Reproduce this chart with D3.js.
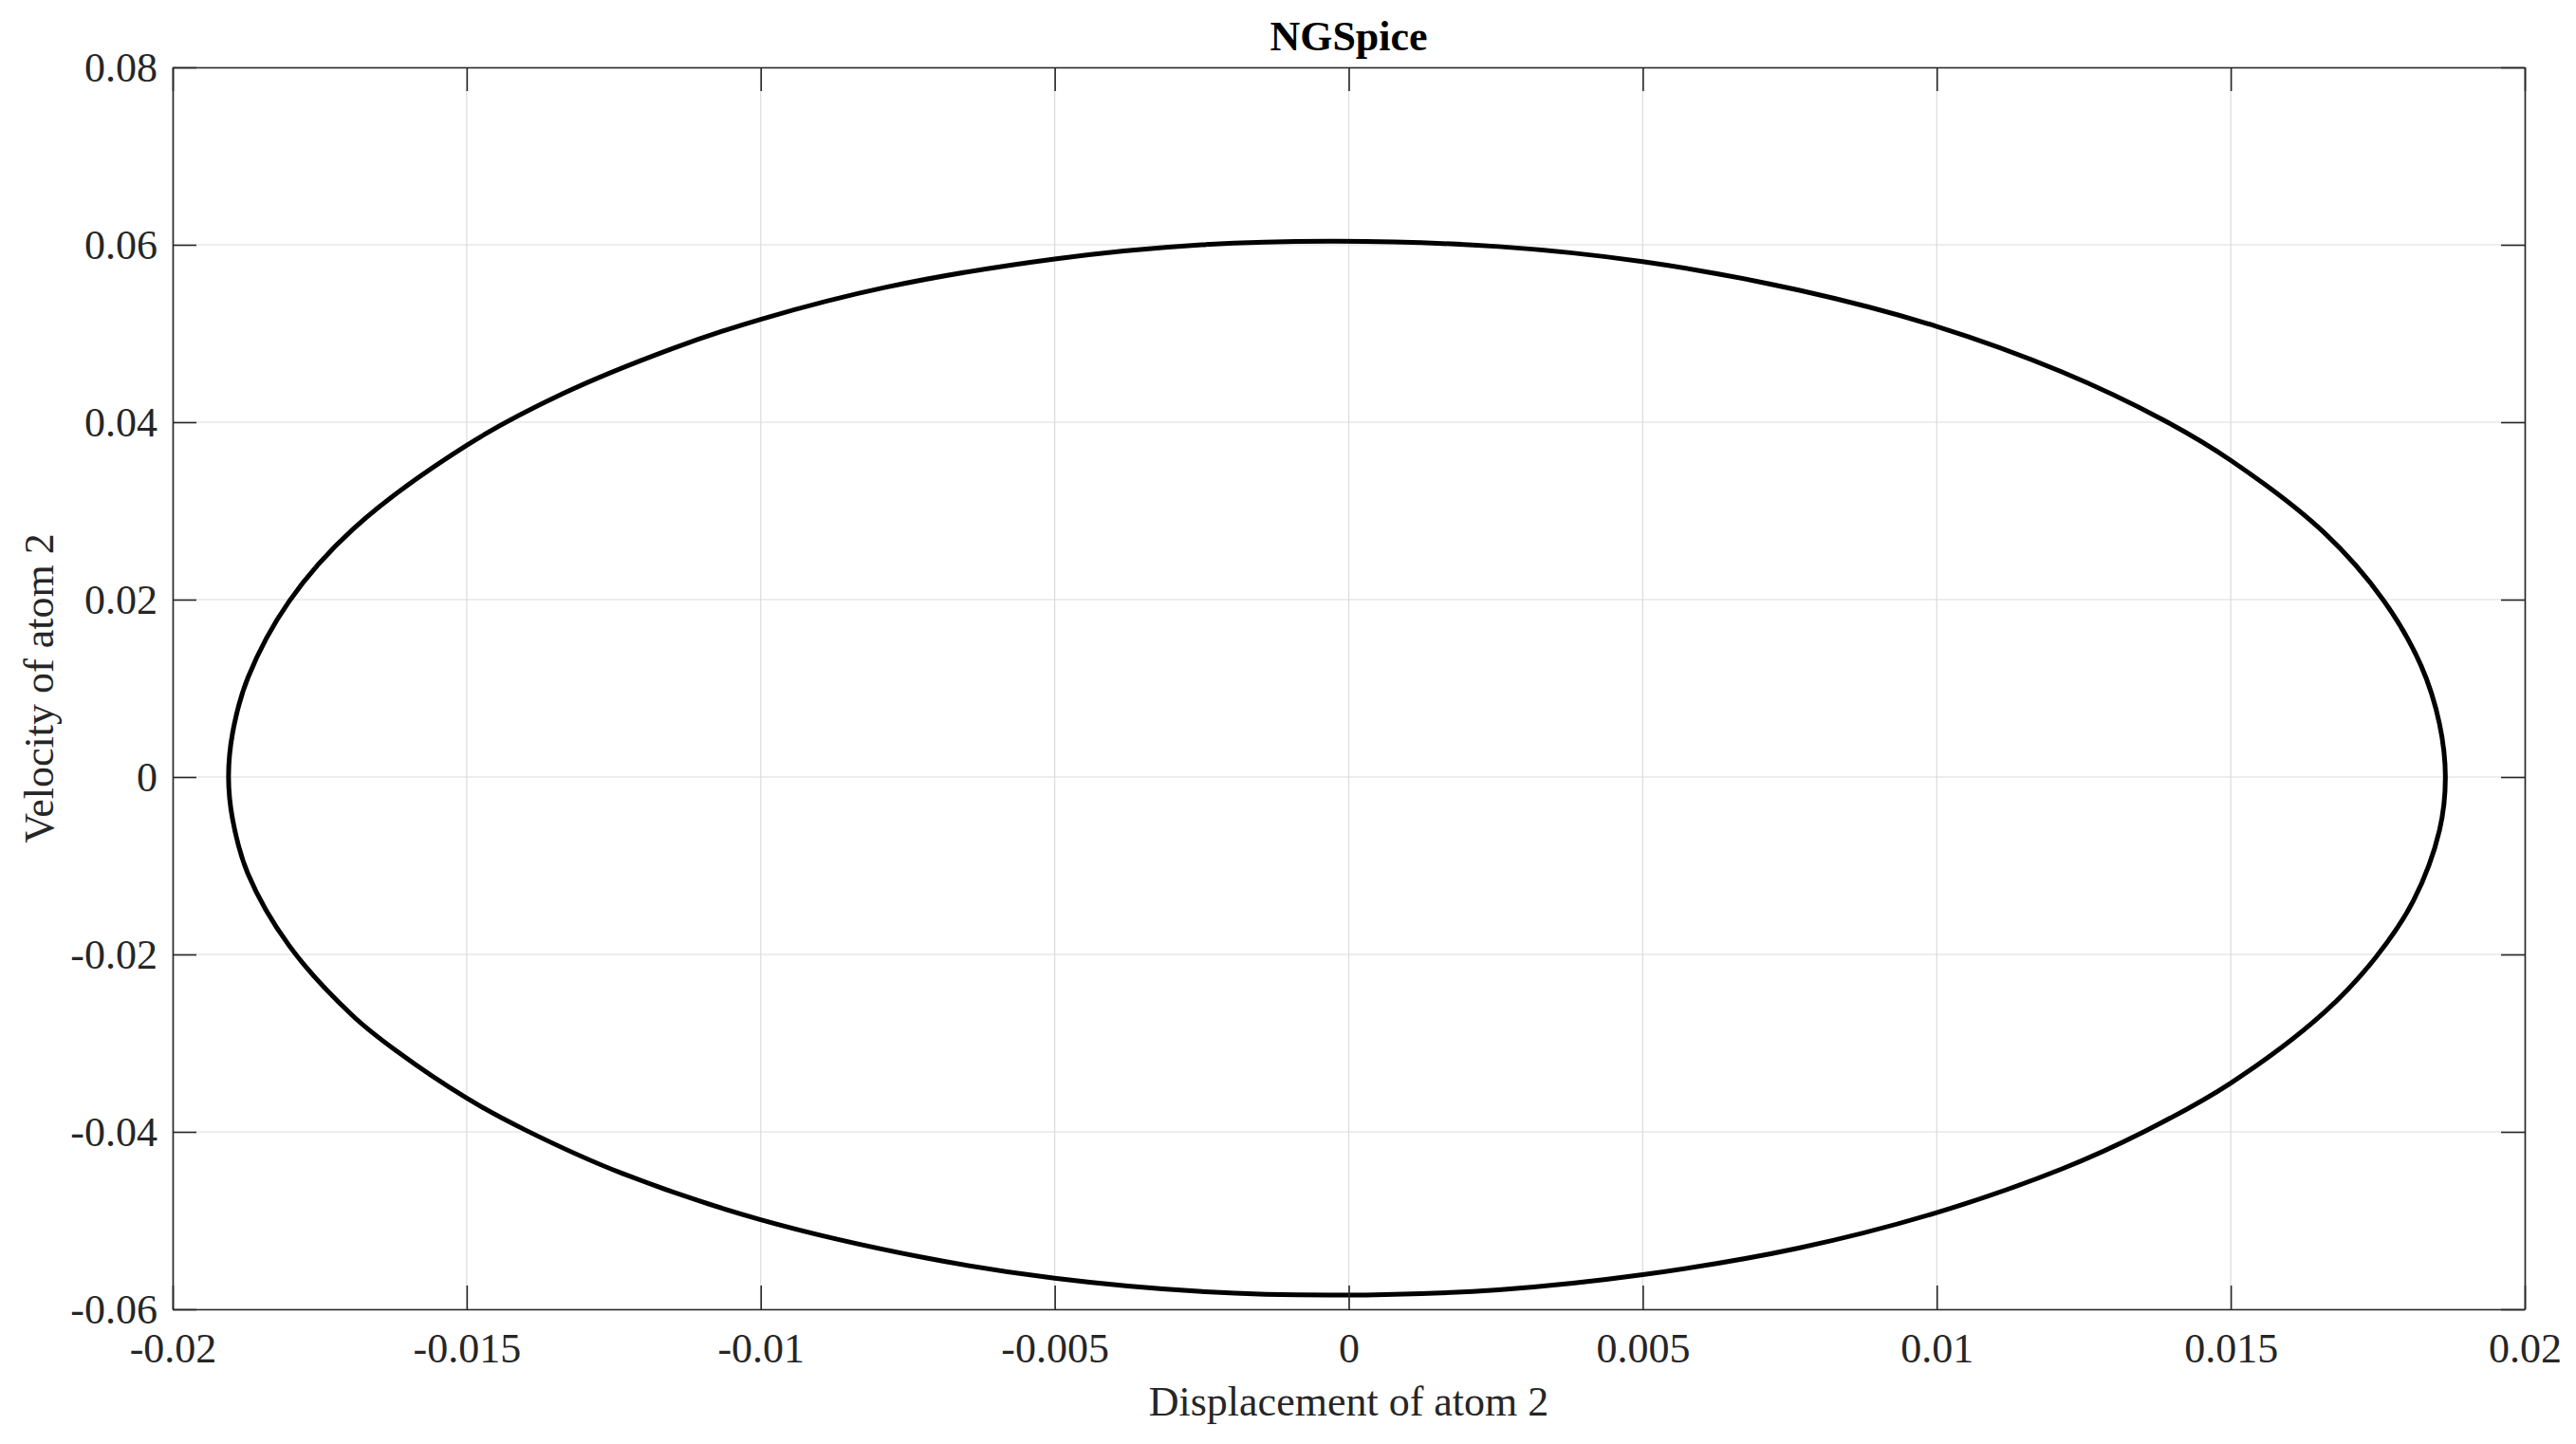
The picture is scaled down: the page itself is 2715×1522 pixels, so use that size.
<!DOCTYPE html>
<html>
<head>
<meta charset="utf-8">
<script src="https://cdn.jsdelivr.net/npm/d3@7"></script>
<style>
    body { margin: 0; background: #fff; }
    .chart__container { width: 2715px; height: 1522px; }
</style>
</head>
<body>
<div class="chart__container"></div>
<script>
// phase portrait, going round the loop once
const displacement = [
    -0.01905, -0.01898, -0.01872, -0.01802, -0.01694, -0.01500, -0.01337, -0.01150,
    -0.01000, -0.00788, -0.00500, -0.00250, -0.00020, 0.00255, 0.00500, 0.00765,
    0.01000, 0.01212, 0.01384, 0.01500, 0.01658, 0.01760, 0.01824, 0.01855,
    0.01865, 0.01855, 0.01811, 0.01747, 0.01658, 0.01500, 0.01352, 0.01212,
    0.01000, 0.00765, 0.00500, 0.00255, -0.00020, -0.00250, -0.00500, -0.00720,
    -0.01000, -0.01235, -0.01400, -0.01500, -0.01617, -0.01694, -0.01802, -0.01872,
    -0.01898
];
const velocity = [
    0.0000, 0.0050, 0.0112, 0.0198, 0.0279, 0.0374, 0.0432, 0.0483,
    0.0516, 0.0552, 0.0584, 0.0600, 0.0604, 0.0598, 0.0581, 0.0549,
    0.0508, 0.0457, 0.0403, 0.0357, 0.0276, 0.0199, 0.0125, 0.0060,
    0.0000, -0.0060, -0.0139, -0.0203, -0.0266, -0.0345, -0.0400, -0.0442,
    -0.0491, -0.0531, -0.0561, -0.0578, -0.0584, -0.0580, -0.0565, -0.0542,
    -0.0499, -0.0447, -0.0398, -0.0362, -0.0310, -0.0269, -0.0190, -0.0109,
    -0.0048
];

const xTicks = [-0.02, -0.015, -0.01, -0.005, 0, 0.005, 0.01, 0.015, 0.02];
const yTicks = [-0.06, -0.04, -0.02, 0, 0.02, 0.04, 0.06, 0.08];

const chartTitle = 'NGSpice';
const xLabel = 'Displacement of atom 2';
const yLabel = 'Velocity of atom 2';

function drawChart() {
    const width = 2715,
        height = 1522,
        margin = {top: 71, right: 54, bottom: 142, left: 182};
    const innerW = width - margin.left - margin.right,
        innerH = height - margin.top - margin.bottom;
    const tickLen = 25;
    const axisColor = '#262626';
    const font = '"Liberation Serif", "Times New Roman", serif';

    const x = d3.scaleLinear().domain([-0.02, 0.02]).range([0, innerW]);
    const y = d3.scaleLinear().domain([-0.06, 0.08]).range([innerH, 0]);

    const svg = d3.select('.chart__container')
        .append('svg')
        .attr('width', width)
        .attr('height', height);

    const g = svg.append('g')
        .attr('transform', 'translate(' + margin.left + ',' + margin.top + ')');

    // grid
    g.append('g')
        .selectAll('line')
        .data(xTicks)
        .enter()
        .append('line')
        .attr('x1', d => x(d)).attr('x2', d => x(d))
        .attr('y1', 0).attr('y2', innerH)
        .attr('stroke', '#dcdcdc')
        .attr('stroke-width', 1.2);

    g.append('g')
        .selectAll('line')
        .data(yTicks)
        .enter()
        .append('line')
        .attr('x1', 0).attr('x2', innerW)
        .attr('y1', d => y(d)).attr('y2', d => y(d))
        .attr('stroke', '#dcdcdc')
        .attr('stroke-width', 1.2);

    // the loop
    const pts = displacement.map((d, i) => [d, velocity[i]]);
    const line = d3.line()
        .x(d => x(d[0]))
        .y(d => y(d[1]))
        .curve(d3.curveCatmullRomClosed.alpha(0.5));

    g.append('path')
        .attr('d', line(pts))
        .attr('fill', 'none')
        .attr('stroke', '#000')
        .attr('stroke-width', 5);

    // axes, ticks point inwards on all four sides
    const styleAxis = function(sel) {
        sel.select('.domain').attr('stroke', axisColor).attr('stroke-width', 1.6);
        sel.selectAll('.tick line').attr('stroke', axisColor).attr('stroke-width', 1.6);
        sel.selectAll('text')
            .attr('fill', axisColor)
            .style('font-family', font)
            .style('font-size', '44px');
    };

    const fmt = d => String(d);

    g.append('g')
        .attr('transform', 'translate(0,' + innerH + ')')
        .call(d3.axisBottom(x).tickValues(xTicks).tickFormat(fmt)
            .tickSizeInner(-tickLen).tickSizeOuter(0).tickPadding(25))
        .call(styleAxis);

    g.append('g')
        .call(d3.axisTop(x).tickValues(xTicks).tickFormat('')
            .tickSizeInner(-tickLen).tickSizeOuter(0))
        .call(styleAxis);

    g.append('g')
        .call(d3.axisLeft(y).tickValues(yTicks).tickFormat(fmt)
            .tickSizeInner(-tickLen).tickSizeOuter(0).tickPadding(16))
        .call(styleAxis);

    g.append('g')
        .attr('transform', 'translate(' + innerW + ',0)')
        .call(d3.axisRight(y).tickValues(yTicks).tickFormat('')
            .tickSizeInner(-tickLen).tickSizeOuter(0))
        .call(styleAxis);

    // labels
    svg.append('text')
        .attr('x', margin.left + innerW / 2)
        .attr('y', 53)
        .attr('text-anchor', 'middle')
        .style('font-family', font)
        .style('font-size', '44px')
        .style('font-weight', 'bold')
        .attr('fill', '#000')
        .text(chartTitle);

    svg.append('text')
        .attr('x', margin.left + innerW / 2)
        .attr('y', 1492)
        .attr('text-anchor', 'middle')
        .style('font-family', font)
        .style('font-size', '44px')
        .attr('fill', axisColor)
        .text(xLabel);

    svg.append('text')
        .attr('transform', 'translate(56,' + (margin.top + innerH / 2) + ') rotate(-90)')
        .attr('text-anchor', 'middle')
        .style('font-family', font)
        .style('font-size', '44px')
        .attr('fill', axisColor)
        .text(yLabel);
}

if (document.readyState === 'loading') {
    document.addEventListener('DOMContentLoaded', drawChart);
} else {
    drawChart();
}
</script>
</body>
</html>
